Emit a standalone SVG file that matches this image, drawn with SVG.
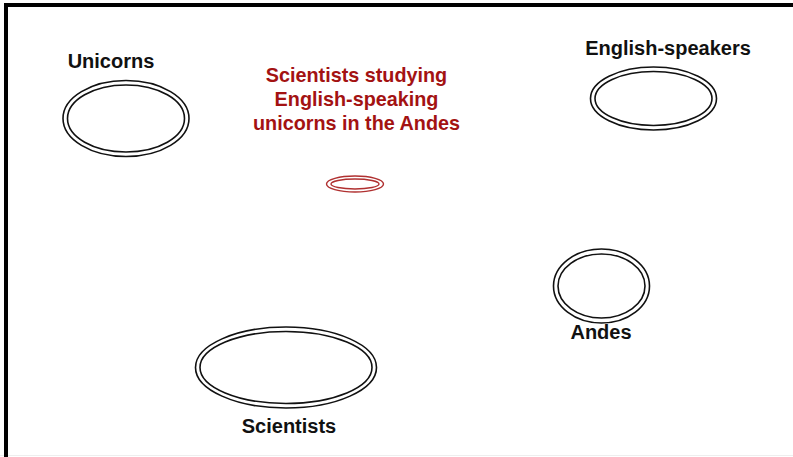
<svg xmlns="http://www.w3.org/2000/svg" width="793" height="457" viewBox="0 0 793 457">
<style>
.e{fill:none;stroke:#111;stroke-width:1.6}
.r{fill:none;stroke:#b03030;stroke-width:1.4}
.t{font-family:"Liberation Sans",Arial,sans-serif;font-weight:bold;font-size:20px;fill:#111;text-anchor:middle}
.rt{font-family:"Liberation Sans",Arial,sans-serif;font-weight:bold;font-size:19.8px;fill:#a31212;text-anchor:middle}
</style>
<rect width="793" height="457" fill="#fff"/>
<line x1="0" y1="455.5" x2="793" y2="455.5" stroke="#eee" stroke-width="1"/>
<path d="M6 457 V5 H793" fill="none" stroke="#000" stroke-width="4"/>
<g id="unicorns">
<ellipse class="e" cx="126" cy="118.5" rx="63" ry="38"/>
<ellipse class="e" cx="126" cy="118.5" rx="58.5" ry="33.5"/>
<text class="t" x="111" y="68">Unicorns</text>
</g>
<g id="english-speakers">
<ellipse class="e" cx="653.5" cy="98.5" rx="63" ry="31.5"/>
<ellipse class="e" cx="653.5" cy="98.5" rx="58.5" ry="27"/>
<text class="t" x="668" y="55">English-speakers</text>
</g>
<g id="intersection">
<text class="rt" x="356.5" y="82">Scientists studying</text>
<text class="rt" x="356.5" y="106">English-speaking</text>
<text class="rt" x="356.5" y="130">unicorns in the Andes</text>
<ellipse class="r" cx="355" cy="184" rx="28.5" ry="8"/>
<ellipse class="r" cx="355" cy="184" rx="24" ry="5"/>
</g>
<g id="andes">
<ellipse class="e" cx="601.5" cy="286" rx="48" ry="37"/>
<ellipse class="e" cx="601.5" cy="286" rx="43.5" ry="32"/>
<text class="t" x="601" y="339">Andes</text>
</g>
<g id="scientists">
<ellipse class="e" cx="286" cy="367.5" rx="90.5" ry="40.5"/>
<ellipse class="e" cx="286" cy="367.5" rx="86" ry="36"/>
<text class="t" x="289" y="433">Scientists</text>
</g>
<g id="connectors"></g>
</svg>
